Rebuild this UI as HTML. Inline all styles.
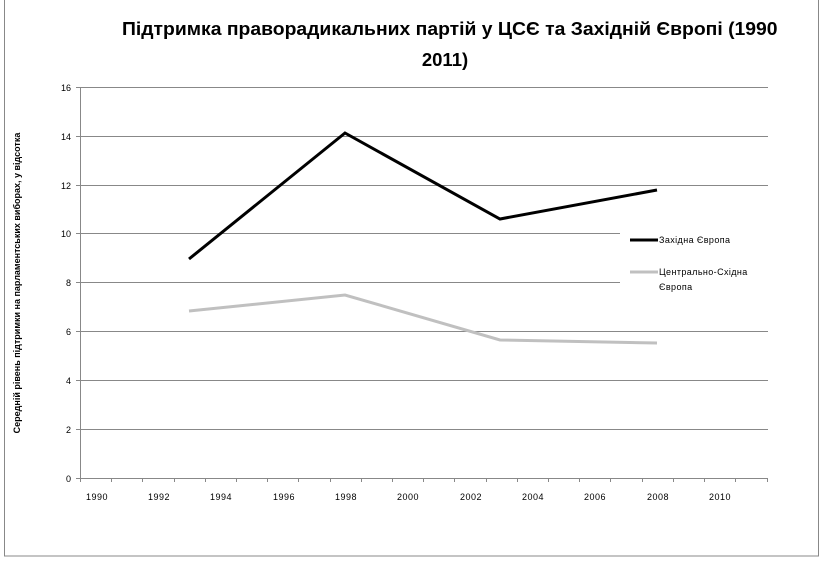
<!DOCTYPE html>
<html><head><meta charset="utf-8"><style>
body{margin:0;background:#fff;}
svg{display:block;font-family:"Liberation Sans","DejaVu Sans",sans-serif;}
</style></head><body>
<svg width="825" height="565" viewBox="0 0 825 565" xmlns="http://www.w3.org/2000/svg">
<rect x="0" y="0" width="825" height="565" fill="#fff"/>
<rect x="4.5" y="-5" width="814" height="561" fill="none" stroke="#888" stroke-width="1"/>
<svg x="0" y="0" width="778" height="80" overflow="hidden">
<text x="122" y="35" font-size="18.5" font-weight="bold" fill="#000" textLength="662" lengthAdjust="spacingAndGlyphs">Підтримка праворадикальних партій у ЦСЄ та Західній Європі (1990-</text>
</svg>
<text x="445" y="66" text-anchor="middle" font-size="18.5" font-weight="bold" fill="#000">2011)</text>
<g stroke="#888" stroke-width="1">
<line x1="80" y1="87.5" x2="768" y2="87.5"/>
<line x1="80" y1="136.5" x2="768" y2="136.5"/>
<line x1="80" y1="185.5" x2="768" y2="185.5"/>
<line x1="80" y1="233.5" x2="768" y2="233.5"/>
<line x1="80" y1="282.5" x2="768" y2="282.5"/>
<line x1="80" y1="331.5" x2="768" y2="331.5"/>
<line x1="80" y1="380.5" x2="768" y2="380.5"/>
<line x1="80" y1="429.5" x2="768" y2="429.5"/>
<line x1="80" y1="478.5" x2="768" y2="478.5"/>
<line x1="80.5" y1="87" x2="80.5" y2="478"/>
<line x1="76" y1="87.5" x2="80" y2="87.5"/><line x1="76" y1="136.5" x2="80" y2="136.5"/><line x1="76" y1="185.5" x2="80" y2="185.5"/><line x1="76" y1="233.5" x2="80" y2="233.5"/><line x1="76" y1="282.5" x2="80" y2="282.5"/><line x1="76" y1="331.5" x2="80" y2="331.5"/><line x1="76" y1="380.5" x2="80" y2="380.5"/><line x1="76" y1="429.5" x2="80" y2="429.5"/><line x1="76" y1="478.5" x2="80" y2="478.5"/>
</g>
<g stroke="#888" stroke-width="1">
<line x1="80.5" y1="478" x2="80.5" y2="482"/><line x1="111.5" y1="478" x2="111.5" y2="482"/><line x1="142.5" y1="478" x2="142.5" y2="482"/><line x1="174.5" y1="478" x2="174.5" y2="482"/><line x1="205.5" y1="478" x2="205.5" y2="482"/><line x1="236.5" y1="478" x2="236.5" y2="482"/><line x1="267.5" y1="478" x2="267.5" y2="482"/><line x1="298.5" y1="478" x2="298.5" y2="482"/><line x1="330.5" y1="478" x2="330.5" y2="482"/><line x1="361.5" y1="478" x2="361.5" y2="482"/><line x1="392.5" y1="478" x2="392.5" y2="482"/><line x1="423.5" y1="478" x2="423.5" y2="482"/><line x1="454.5" y1="478" x2="454.5" y2="482"/><line x1="486.5" y1="478" x2="486.5" y2="482"/><line x1="517.5" y1="478" x2="517.5" y2="482"/><line x1="548.5" y1="478" x2="548.5" y2="482"/><line x1="579.5" y1="478" x2="579.5" y2="482"/><line x1="610.5" y1="478" x2="610.5" y2="482"/><line x1="642.5" y1="478" x2="642.5" y2="482"/><line x1="673.5" y1="478" x2="673.5" y2="482"/><line x1="704.5" y1="478" x2="704.5" y2="482"/><line x1="735.5" y1="478" x2="735.5" y2="482"/><line x1="767.5" y1="478" x2="767.5" y2="482"/>
</g>
<g font-size="9" fill="#000" text-anchor="end">
<text x="71" y="91">16</text><text x="71" y="140">14</text><text x="71" y="189">12</text><text x="71" y="237">10</text><text x="71" y="286">8</text><text x="71" y="335">6</text><text x="71" y="384">4</text><text x="71" y="433">2</text><text x="71" y="482">0</text>
</g>
<g font-size="9" fill="#000" text-anchor="middle" letter-spacing="0.5">
<text x="97" y="500">1990</text><text x="159" y="500">1992</text><text x="221" y="500">1994</text><text x="284" y="500">1996</text><text x="346" y="500">1998</text><text x="408" y="500">2000</text><text x="471" y="500">2002</text><text x="533" y="500">2004</text><text x="595" y="500">2006</text><text x="658" y="500">2008</text><text x="720" y="500">2010</text>
</g>
<text transform="translate(20,283) rotate(-90)" text-anchor="middle" font-size="9" font-weight="bold" fill="#000">Середній рівень підтримки на парламентських виборах, у відсотка</text>
<rect x="620" y="225" width="148" height="75" fill="#fff"/>
<polyline points="189,259 345,133 500,219 657,190" fill="none" stroke="#000" stroke-width="3"/>
<polyline points="189,311 345,295 500,340 657,343" fill="none" stroke="#c0c0c0" stroke-width="3"/>
<line x1="630" y1="240" x2="658" y2="240" stroke="#000" stroke-width="3"/>
<line x1="630" y1="272" x2="658" y2="272" stroke="#c0c0c0" stroke-width="3"/>
<g font-size="9" fill="#000" letter-spacing="0.4">
<text x="659" y="243">Західна Європа</text>
<text x="659" y="275">Центрально-Східна</text>
<text x="659" y="290">Європа</text>
</g>
</svg>
</body></html>
